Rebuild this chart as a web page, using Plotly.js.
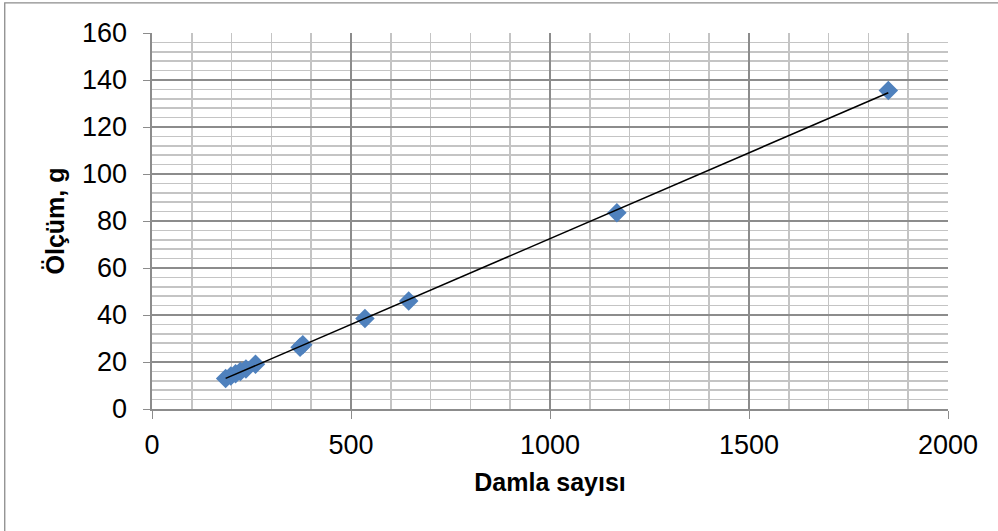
<!DOCTYPE html>
<html><head><meta charset="utf-8">
<script src="https://cdn.plot.ly/plotly-3.0.1.min.js"></script>
<style>html,body{margin:0;padding:0;background:#fff;}#chart{width:998px;height:531px;}</style>
</head><body><div id="chart"></div>
<script>
// Data
const dropCounts = [185, 198, 210, 222, 236, 260, 372, 379, 535, 645, 1168, 1850];
const measurements = [13, 14, 15, 16, 17, 19, 26.3, 27.3, 38.5, 46, 83.5, 135.5];
const xTickVals = [0, 500, 1000, 1500, 2000];
const yTickVals = [0, 20, 40, 60, 80, 100, 120, 140, 160];

// Linear trend line (least squares) through the data
const n = dropCounts.length;
const mx = dropCounts.reduce((a,b)=>a+b,0)/n;
const my = measurements.reduce((a,b)=>a+b,0)/n;
let sxy=0, sxx=0;
for(let i=0;i<n;i++){sxy+=(dropCounts[i]-mx)*(measurements[i]-my);sxx+=(dropCounts[i]-mx)**2;}
const slope = sxy/sxx, intercept = my - slope*mx;
const xMin = Math.min(...dropCounts), xMax = Math.max(...dropCounts);

// minor grid positions (excluding the major ones)
const xMinor = [], yMinor = [];
for (let v = 100; v < 2000; v += 100) if (v % 500 !== 0) xMinor.push(v);
for (let v = 4; v < 160; v += 4) if (v % 20 !== 0) yMinor.push(v);

const traces = [
  {x: dropCounts, y: measurements, type:'scatter', mode:'markers',
   marker:{symbol:'diamond', size:15, color:'#4f81bd', line:{width:0}}, hoverinfo:'x+y'},
  {x:[xMin,xMax], y:[slope*xMin+intercept, slope*xMax+intercept], type:'scatter', mode:'lines',
   line:{color:'#000', width:1.5}, hoverinfo:'skip'}
];

const layout = {
  width:998, height:531, showlegend:false,
  paper_bgcolor:'#fff', plot_bgcolor:'#fff',
  margin:{l:152, r:50, t:33, b:122},
  font:{family:'Liberation Sans, Arial, sans-serif', color:'#000'},
  xaxis:{range:[0,2000], tickvals:xTickVals, ticktext:xTickVals.map(String),
    showgrid:true, gridcolor:'#8c8c8c', gridwidth:1.6,
    minor:{tickmode:'array', tickvals:xMinor, showgrid:true, gridcolor:'#c4c4c4', gridwidth:1.6, ticks:''},
    zeroline:false, showline:true, linecolor:'#8c8c8c', linewidth:1.6,
    ticks:'outside', ticklen:8, tickcolor:'#8c8c8c', tickfont:{size:27},
    ticklabelstandoff:3,
    title:{text:'<b>Damla sayısı</b>', font:{size:25}, standoff:14}},
  yaxis:{range:[0,160], tickvals:yTickVals, ticktext:yTickVals.map(String),
    showgrid:true, gridcolor:'#8c8c8c', gridwidth:1.6,
    minor:{tickmode:'array', tickvals:yMinor, showgrid:true, gridcolor:'#c4c4c4', gridwidth:1.6, ticks:''},
    zeroline:false, showline:true, linecolor:'#8c8c8c', linewidth:1.6,
    ticks:'outside', ticklen:7, tickcolor:'#8c8c8c', tickfont:{size:27},
    ticklabelstandoff:11,
    title:{text:'<b>Ölçüm, g</b>', font:{size:25}, standoff:10}},
  shapes:[{type:'rect', xref:'paper', yref:'paper', x0:-0.185, x1:1.2, y0:-0.4, y1:1.08,
    line:{color:'#8c8c8c', width:1.3}, fillcolor:'rgba(0,0,0,0)', layer:'below'}]
};
Plotly.newPlot('chart', traces, layout, {displayModeBar:false, staticPlot:true});
</script></body></html>
